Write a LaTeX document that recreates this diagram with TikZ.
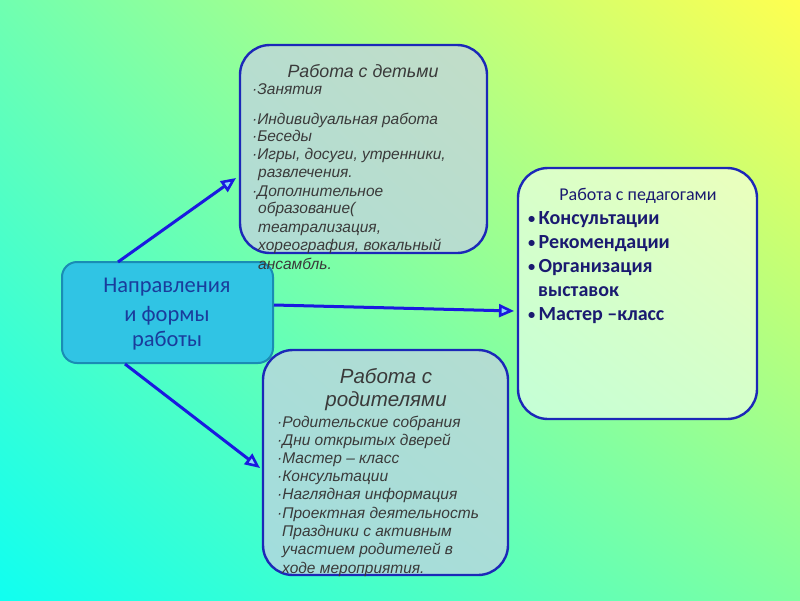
\documentclass[tikz,border=0pt]{standalone}
\usepackage{fontspec}
\setmainfont{Liberation Sans}
\newfontfamily\calfont{Carlito}
\usetikzlibrary{arrows.meta,shadings}
\definecolor{bgTL}{HTML}{70FFB0}
\definecolor{bgTR}{HTML}{FFFF50}
\definecolor{bgBL}{HTML}{10FFF0}
\definecolor{bgBR}{HTML}{80FFA0}
\definecolor{boxline}{HTML}{1C28B8}
\definecolor{arrowblue}{HTML}{1A1AE0}
\definecolor{grayblue}{HTML}{C4D2E2}
\definecolor{txtgray}{HTML}{3A3A3A}
\definecolor{navy}{HTML}{1A1A70}
\definecolor{centerfill}{HTML}{30C4E4}
\definecolor{centerline}{HTML}{1A8CB4}
\definecolor{centertxt}{HTML}{1A3C9C}
\newcommand{\pbul}{\raisebox{0.5pt}{\scalebox{0.72}{•}}\,}
\tikzset{
  panel/.style={draw=boxline, line width=2.4pt, rounded corners=30pt},
  graypanel/.style={panel, fill=grayblue, fill opacity=0.75},
  whitepanel/.style={panel, fill=white, fill opacity=0.55},
  itemtxt/.style={anchor=base west, inner sep=0pt, font=\itshape\fontsize{15.5}{17}\selectfont, text=txtgray},
  titletxt/.style={anchor=base, inner sep=0pt, font=\itshape\fontsize{17.8}{19}\selectfont, text=txtgray},
  bigtitle/.style={anchor=base, inner sep=0pt, font=\itshape\fontsize{20.5}{22}\selectfont, text=txtgray},
  pedtitle/.style={anchor=base, inner sep=0pt, font=\calfont\fontsize{18}{20}\selectfont, text=navy},
  peditem/.style={anchor=base west, inner sep=0pt, font=\calfont\bfseries\fontsize{20}{22}\selectfont, text=navy},
  centxt/.style={anchor=base, inner sep=0pt, font=\calfont\fontsize{22.5}{24}\selectfont, text=centertxt},
  conn/.style={draw=arrowblue, line width=3pt, -{Triangle[open, length=15pt, width=13pt, line width=2.6pt, fill=cyan!45]}}
}
\begin{document}
\begin{tikzpicture}[x=1pt, y=-1pt]
\useasboundingbox (0,0) rectangle (800,600);
\shade[upper left=bgTL, upper right=bgTR, lower left=bgBL, lower right=bgBR] (0,0) rectangle (800,600);

% panels
\draw[graypanel] (240,45) rectangle (487,253);
\draw[whitepanel] (518,168) rectangle (757,419);
\draw[graypanel] (263,350) rectangle (508,575);
\node[draw=centerline, line width=2pt, fill=centerfill, rounded corners=15pt,
      minimum width=211pt, minimum height=101pt, inner sep=0pt] (dir) at (167.5,312.5) {};

% connectors
\coordinate (s1) at (118,262);
\coordinate (e1) at (236,178);
\coordinate (s2) at (274,305);
\coordinate (e2) at (514,311);
\coordinate (s3) at (125,364);
\coordinate (e3) at (260,468);
\draw[conn] (s1) -- (e1);
\draw[conn] (s2) -- (e2);
\draw[conn] (s3) -- (e3);

% center text
\node[centxt] (c1) at (167,292) {Направления};
\node[centxt] (c2) at (167,321) {и формы};
\node[centxt] (c3) at (167,346) {работы};

% children box
\node[titletxt] (k0) at (363,77) {Работа с детьми};
\node[itemtxt] (k1) at (252,94) {·Занятия};
\node[itemtxt] (k2) at (252,124) {·Индивидуальная работа};
\node[itemtxt] (k3) at (252,141) {·Беседы};
\node[itemtxt] (k4) at (252,159) {·Игры, досуги, утренники,};
\node[itemtxt] (k5) at (258,177) {развлечения.};
\node[itemtxt] (k6) at (252,196) {·Дополнительное};
\node[itemtxt] (k7) at (258,213) {образование(};
\node[itemtxt] (k8) at (258,232) {театрализация,};
\node[itemtxt] (k9) at (258,250) {хореография, вокальный};
\node[itemtxt] (k10) at (258,269) {ансамбль.};

% teachers box
\node[pedtitle] (p0) at (638,200) {Работа с педагогами};
\node[peditem] (p1) at (528,224) {\pbul Консультации};
\node[peditem] (p2) at (528,248) {\pbul Рекомендации};
\node[peditem] (p3) at (528,272) {\pbul Организация};
\node[peditem] (p4) at (538,296) {выставок};
\node[peditem] (p5) at (528,320) {\pbul Мастер –класс};

% parents box
\node[bigtitle] (r0) at (386,383) {Работа с};
\node[bigtitle] (r00) at (386,406) {родителями};
\node[itemtxt] (r1) at (277,427) {·Родительские собрания};
\node[itemtxt] (r2) at (277,445) {·Дни открытых дверей};
\node[itemtxt] (r3) at (277,463) {·Мастер – класс};
\node[itemtxt] (r4) at (277,481) {·Консультации};
\node[itemtxt] (r5) at (277,499) {·Наглядная информация};
\node[itemtxt] (r6) at (277,518) {·Проектная деятельность};
\node[itemtxt] (r7) at (282,536) {Праздники с активным};
\node[itemtxt] (r8) at (282,554) {участием родителей в};
\node[itemtxt] (r9) at (282,573) {ходе мероприятия.};
\end{tikzpicture}
\end{document}
